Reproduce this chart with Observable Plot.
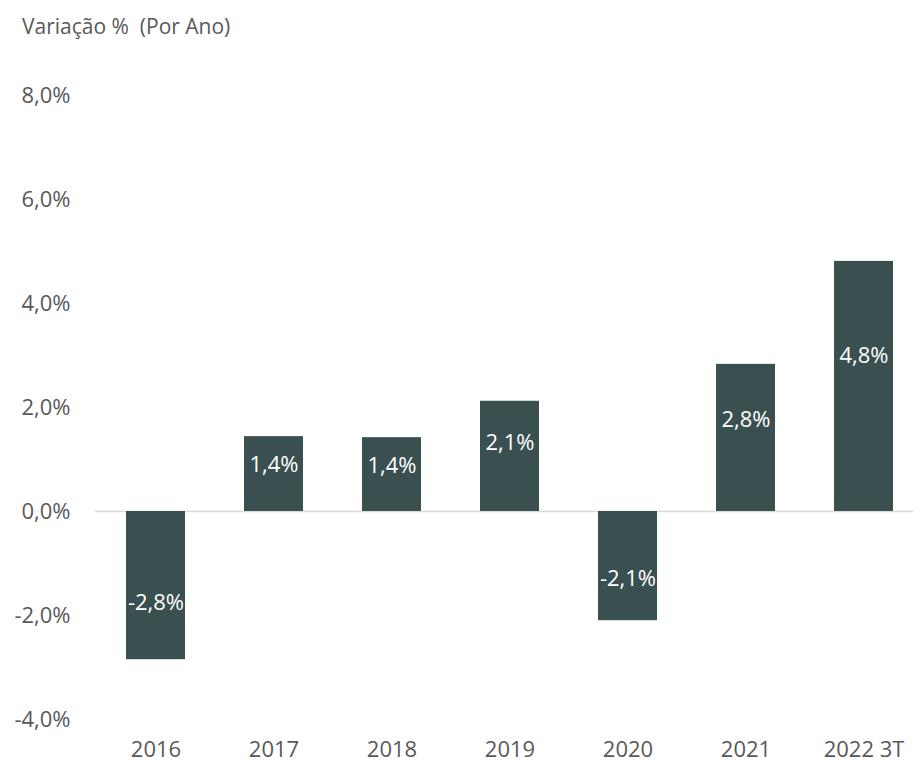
<!DOCTYPE html>
<html>
<head>
<meta charset="utf-8">
<script src="https://cdn.jsdelivr.net/npm/d3@7"></script>
<script src="https://cdn.jsdelivr.net/npm/@observablehq/plot@0.6"></script>
<style>
  html, body { margin: 0; padding: 0; background: #fff; }
  #wrap { position: relative; width: 913px; height: 764px; overflow: hidden; }
  #title { position: absolute; left: 22px; top: 12px; font-family: "Open Sans", sans-serif; font-size: 21px; color: #595959; white-space: pre; }
</style>
</head>
<body>
<div id="wrap">
  <div id="title">Variação %  (Por Ano)</div>
</div>
<script>
const years = ["2016", "2017", "2018", "2019", "2020", "2021", "2022 3T"];
const values = [-2.85, 1.44, 1.42, 2.12, -2.1, 2.83, 4.81];
const labels = ["-2,8%", "1,4%", "1,4%", "2,1%", "-2,1%", "2,8%", "4,8%"];
const yTicks = [-4, -2, 0, 2, 4, 6, 8];

const data = years.map((year, i) => ({year, value: values[i], label: labels[i]}));
const fmt = d => d.toFixed(1).replace(".", ",") + "%";

const chart = Plot.plot({
  width: 913,
  height: 764,
  marginLeft: 95,
  marginRight: 0,
  marginTop: 95,
  marginBottom: 45,
  style: {fontFamily: "Open Sans, sans-serif", fontSize: "22px", color: "#595959", background: "transparent"},
  x: {domain: years, paddingInner: 0.5, paddingOuter: 0.209, align: 0.6076, label: null},
  y: {domain: [-4, 8], label: null},
  marks: [
    Plot.axisY({ticks: yTicks, tickFormat: fmt, tickSize: 0, tickPadding: 25, label: null, fill: "#595959"}),
    Plot.axisX({tickSize: 0, tickPadding: 22, label: null, fill: "#595959"}),
    Plot.ruleY([0], {stroke: "#d9d9d9", strokeWidth: 1.5}),
    Plot.barY(data, {x: "year", y: "value", fill: "#3a5050"}),
    Plot.text(data, {x: "year", y: d => d.value * 0.62, text: "label", fill: "white", fontSize: 22})
  ]
});
document.getElementById("wrap").appendChild(chart);
</script>
</body>
</html>
